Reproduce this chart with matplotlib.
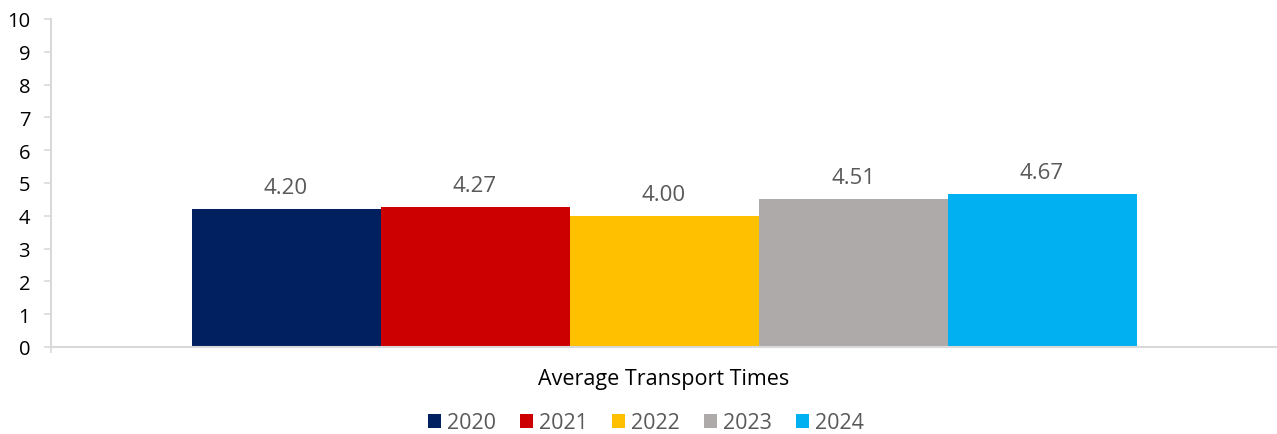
import numpy as np
import matplotlib
matplotlib.use('Agg')
import matplotlib.pyplot as plt

# data
category = 'Average Transport Times'
years = ['2020', '2021', '2022', '2023', '2024']
values = [4.20, 4.27, 4.00, 4.51, 4.67]
colors = ['#002060', '#CC0000', '#FFC000', '#AEAAAA', '#00B0F0']

plt.rcParams['font.family'] = ['Open Sans', 'DejaVu Sans']

fig = plt.figure(figsize=(12.77, 4.35), dpi=100)
ax = fig.add_axes([51/1277, 0.2, 1 - 51/1277, 1 - 0.2 - 20/435])

w = 189/1226
n = len(years)
offsets = (np.arange(n) - (n - 1)/2) * w
for i in range(n):
    ax.bar(offsets[i], values[i], width=w, color=colors[i], label=years[i])
    ax.annotate('%.2f' % values[i], (offsets[i], values[i]), xytext=(0, 8),
                textcoords='offset points', ha='center', va='bottom',
                fontsize=16, color='#595959')

ax.set_xlim(-0.5, 0.5)
ax.set_ylim(0, 10)
ax.set_yticks(range(0, 11))
ax.set_xticks([-0.5])
ax.set_xticklabels([''])

for s in ['top', 'right']:
    ax.spines[s].set_visible(False)
for s in ['left', 'bottom']:
    ax.spines[s].set_color('#D9D9D9')
    ax.spines[s].set_linewidth(1.5)
ax.tick_params(axis='y', length=5, width=1.2, color='#D9D9D9', pad=10,
               labelsize=14.5, labelcolor='black')
ax.tick_params(axis='x', length=4, width=1.2, color='#D9D9D9')

ax.text(0.5, -0.095, category, transform=ax.transAxes, ha='center',
        va='center', fontsize=15.5, color='black')

leg = fig.legend(loc='center', bbox_to_anchor=(646/1277, 1 - 424/435),
                 ncol=5, frameon=False, fontsize=15.5, handlelength=0.6,
                 handleheight=0.6, handletextpad=0.3, columnspacing=1.1)
for t in leg.get_texts():
    t.set_color('#595959')

plt.savefig('out.png', dpi=100)
